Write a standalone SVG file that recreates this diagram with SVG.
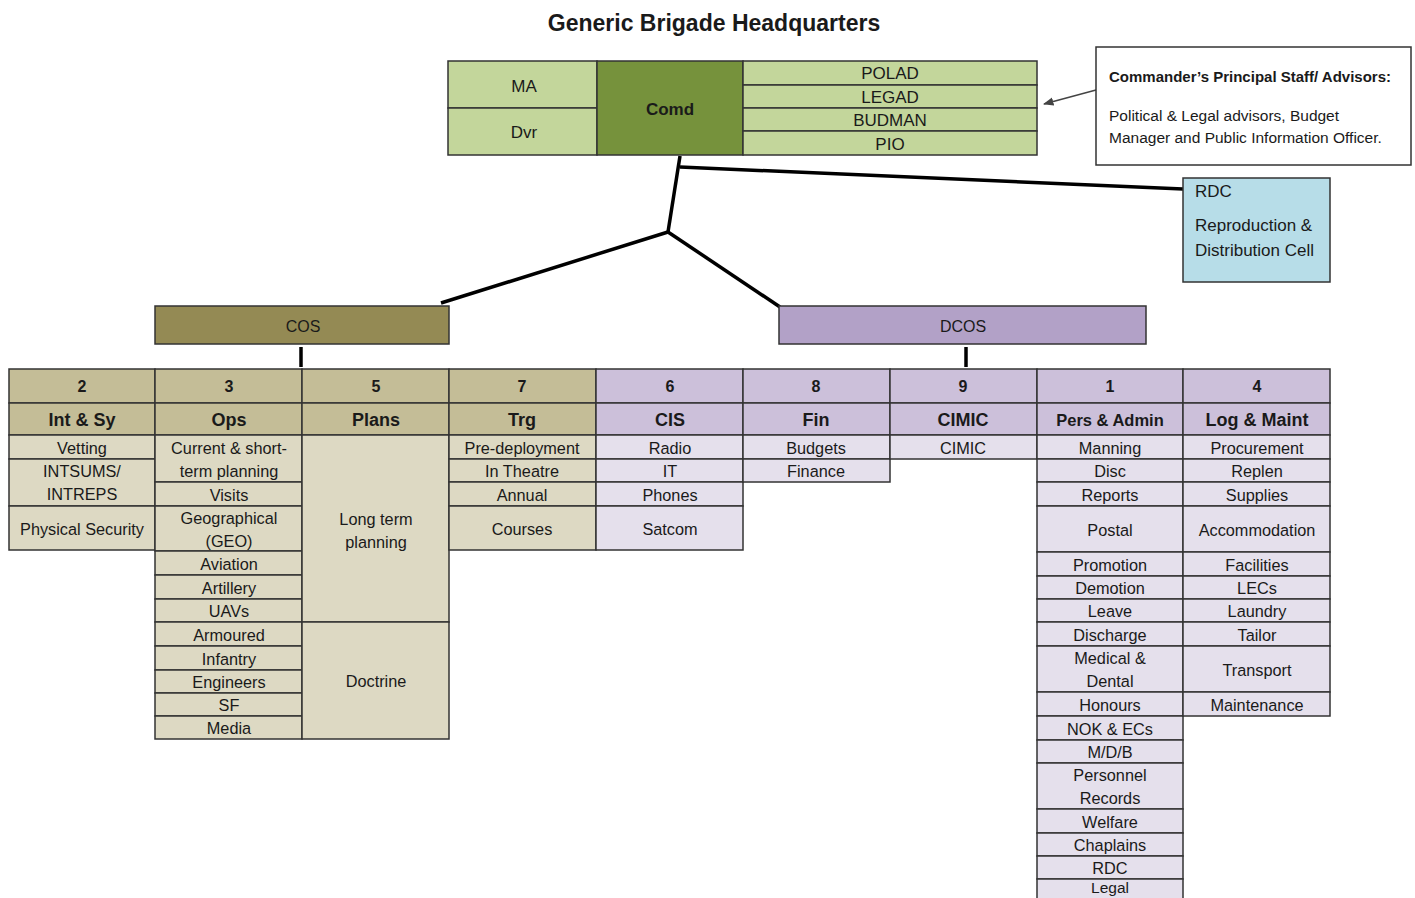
<svg xmlns="http://www.w3.org/2000/svg" width="1415" height="898" viewBox="0 0 1415 898">
<style>
text{font-family:"Liberation Sans",Arial,sans-serif;fill:#1a1a1a;text-anchor:middle}
.c{stroke:#333;stroke-width:1.5}
.lg{fill:#C3D69B}.dg{fill:#76923C}
.hl{fill:#C4BD97}.hr{fill:#CCC0DA}
.bl{fill:#DDD9C3}.br{fill:#E5E0EC}
.t{font-size:16.3px}
.h{font-size:18px;font-weight:bold}
.n{font-size:16px;font-weight:bold}
.conn{stroke:#000;stroke-width:3.5;fill:none;stroke-linecap:butt}
</style>
<defs>
<marker id="ah" viewBox="0 0 10 10" refX="9" refY="5" markerWidth="7" markerHeight="7" orient="auto-start-reverse"><path d="M0,1 L10,5 L0,9 z" fill="#444"/></marker>
</defs>
<rect width="1415" height="898" fill="#fff"/>
<text x="714" y="31" style="font-size:23px;font-weight:bold">Generic Brigade Headquarters</text>

<g id="connectors">
<polyline class="conn" points="680,156 668,232"/>
<polyline class="conn" points="680,167 1183,189"/>
<polyline class="conn" points="668,232 441,303"/>
<polyline class="conn" points="668,232 780,307"/>
<line class="conn" x1="301" y1="347" x2="301" y2="367"/>
<line class="conn" x1="966" y1="347" x2="966" y2="367"/>
<line x1="1096" y1="90" x2="1044" y2="104" stroke="#444" stroke-width="1.5" marker-end="url(#ah)"/>
</g>

<g id="comd">
<rect class="c lg" x="448" y="61" width="149" height="47"/><text x="524" y="92" style="font-size:17px">MA</text>
<rect class="c lg" x="448" y="108" width="149" height="47"/><text x="524" y="138" style="font-size:17px">Dvr</text>
<rect class="c dg" x="597" y="61" width="146" height="94"/><text x="670" y="115" style="font-size:17px;font-weight:bold">Comd</text>
<rect class="c lg" x="743" y="61" width="294" height="24"/><text x="890" y="79" style="font-size:17px">POLAD</text>
<rect class="c lg" x="743" y="85" width="294" height="23"/><text x="890" y="103" style="font-size:17px">LEGAD</text>
<rect class="c lg" x="743" y="108" width="294" height="23"/><text x="890" y="126" style="font-size:17px">BUDMAN</text>
<rect class="c lg" x="743" y="131" width="294" height="24"/><text x="890" y="150" style="font-size:17px">PIO</text>
</g>

<g id="advisors">
<rect x="1096" y="47" width="315" height="118" fill="#fff" stroke="#333" stroke-width="1.5"/>
<text x="1109" y="82" style="text-anchor:start;font-size:15px;font-weight:bold">Commander’s Principal Staff/ Advisors:</text>
<text x="1109" y="121" style="text-anchor:start;font-size:15.5px">Political &amp; Legal advisors, Budget</text>
<text x="1109" y="143" style="text-anchor:start;font-size:15.5px">Manager and Public Information Officer.</text>
</g>

<g id="rdc">
<rect x="1183" y="178" width="147" height="104" fill="#B7DDE8" stroke="#333" stroke-width="1.5"/>
<text x="1195" y="197" style="text-anchor:start;font-size:17px">RDC</text>
<text x="1195" y="231" style="text-anchor:start;font-size:17px">Reproduction &amp;</text>
<text x="1195" y="256" style="text-anchor:start;font-size:17px">Distribution Cell</text>
</g>

<g id="cos">
<rect x="155" y="306" width="294" height="38" fill="#948A54" stroke="#333" stroke-width="1.5"/>
<text x="303" y="332" style="font-size:16px">COS</text>
</g>
<g id="dcos">
<rect x="779" y="306" width="367" height="38" fill="#B2A1C7" stroke="#333" stroke-width="1.5"/>
<text x="963" y="332" style="font-size:16px">DCOS</text>
</g>

<g id="col2">
<rect class="c hl" x="9" y="369" width="146" height="34"/><text class="n" x="82" y="392">2</text>
<rect class="c hl" x="9" y="403" width="146" height="32"/><text class="h" x="82" y="426">Int &amp; Sy</text>
<rect class="c bl" x="9" y="435" width="146" height="24"/><text class="t" x="82" y="454">Vetting</text>
<rect class="c bl" x="9" y="459" width="146" height="47"/><text class="t" x="82" y="477">INTSUMS/</text><text class="t" x="82" y="500">INTREPS</text>
<rect class="c bl" x="9" y="506" width="146" height="44"/><text class="t" x="82" y="535">Physical Security</text>
</g>

<g id="col3">
<rect class="c hl" x="155" y="369" width="147" height="34"/><text class="n" x="229" y="392">3</text>
<rect class="c hl" x="155" y="403" width="147" height="32"/><text class="h" x="229" y="426">Ops</text>
<rect class="c bl" x="155" y="435" width="147" height="47"/><text class="t" x="229" y="454">Current &amp; short-</text><text class="t" x="229" y="477">term planning</text>
<rect class="c bl" x="155" y="482" width="147" height="24"/><text class="t" x="229" y="501">Visits</text>
<rect class="c bl" x="155" y="506" width="147" height="45"/><text class="t" x="229" y="524">Geographical</text><text class="t" x="229" y="547">(GEO)</text>
<rect class="c bl" x="155" y="551" width="147" height="24"/><text class="t" x="229" y="570">Aviation</text>
<rect class="c bl" x="155" y="575" width="147" height="24"/><text class="t" x="229" y="594">Artillery</text>
<rect class="c bl" x="155" y="599" width="147" height="23"/><text class="t" x="229" y="617">UAVs</text>
<rect class="c bl" x="155" y="622" width="147" height="24"/><text class="t" x="229" y="641">Armoured</text>
<rect class="c bl" x="155" y="646" width="147" height="24"/><text class="t" x="229" y="665">Infantry</text>
<rect class="c bl" x="155" y="670" width="147" height="23"/><text class="t" x="229" y="688">Engineers</text>
<rect class="c bl" x="155" y="693" width="147" height="23"/><text class="t" x="229" y="711">SF</text>
<rect class="c bl" x="155" y="716" width="147" height="23"/><text class="t" x="229" y="734">Media</text>
</g>

<g id="col5">
<rect class="c hl" x="302" y="369" width="147" height="34"/><text class="n" x="376" y="392">5</text>
<rect class="c hl" x="302" y="403" width="147" height="32"/><text class="h" x="376" y="426">Plans</text>
<rect class="c bl" x="302" y="435" width="147" height="187"/><text class="t" x="376" y="525">Long term</text><text class="t" x="376" y="548">planning</text>
<rect class="c bl" x="302" y="622" width="147" height="117"/><text class="t" x="376" y="687">Doctrine</text>
</g>

<g id="col7">
<rect class="c hl" x="449" y="369" width="147" height="34"/><text class="n" x="522" y="392">7</text>
<rect class="c hl" x="449" y="403" width="147" height="32"/><text class="h" x="522" y="426">Trg</text>
<rect class="c bl" x="449" y="435" width="147" height="24"/><text class="t" x="522" y="454">Pre-deployment</text>
<rect class="c bl" x="449" y="459" width="147" height="23"/><text class="t" x="522" y="477">In Theatre</text>
<rect class="c bl" x="449" y="482" width="147" height="24"/><text class="t" x="522" y="501">Annual</text>
<rect class="c bl" x="449" y="506" width="147" height="44"/><text class="t" x="522" y="535">Courses</text>
</g>

<g id="col6">
<rect class="c hr" x="596" y="369" width="147" height="34"/><text class="n" x="670" y="392">6</text>
<rect class="c hr" x="596" y="403" width="147" height="32"/><text class="h" x="670" y="426">CIS</text>
<rect class="c br" x="596" y="435" width="147" height="24"/><text class="t" x="670" y="454">Radio</text>
<rect class="c br" x="596" y="459" width="147" height="23"/><text class="t" x="670" y="477">IT</text>
<rect class="c br" x="596" y="482" width="147" height="24"/><text class="t" x="670" y="501">Phones</text>
<rect class="c br" x="596" y="506" width="147" height="44"/><text class="t" x="670" y="535">Satcom</text>
</g>

<g id="col8">
<rect class="c hr" x="743" y="369" width="147" height="34"/><text class="n" x="816" y="392">8</text>
<rect class="c hr" x="743" y="403" width="147" height="32"/><text class="h" x="816" y="426">Fin</text>
<rect class="c br" x="743" y="435" width="147" height="24"/><text class="t" x="816" y="454">Budgets</text>
<rect class="c br" x="743" y="459" width="147" height="23"/><text class="t" x="816" y="477">Finance</text>
</g>

<g id="col9">
<rect class="c hr" x="890" y="369" width="147" height="34"/><text class="n" x="963" y="392">9</text>
<rect class="c hr" x="890" y="403" width="147" height="32"/><text class="h" x="963" y="426">CIMIC</text>
<rect class="c br" x="890" y="435" width="147" height="24"/><text class="t" x="963" y="454">CIMIC</text>
</g>

<g id="col1">
<rect class="c hr" x="1037" y="369" width="146" height="34"/><text class="n" x="1110" y="392">1</text>
<rect class="c hr" x="1037" y="403" width="146" height="32"/><text class="h" x="1110" y="426" style="font-size:16.5px">Pers &amp; Admin</text>
<rect class="c br" x="1037" y="435" width="146" height="24"/><text class="t" x="1110" y="454">Manning</text>
<rect class="c br" x="1037" y="459" width="146" height="23"/><text class="t" x="1110" y="477">Disc</text>
<rect class="c br" x="1037" y="482" width="146" height="24"/><text class="t" x="1110" y="501">Reports</text>
<rect class="c br" x="1037" y="506" width="146" height="46"/><text class="t" x="1110" y="536">Postal</text>
<rect class="c br" x="1037" y="552" width="146" height="24"/><text class="t" x="1110" y="571">Promotion</text>
<rect class="c br" x="1037" y="576" width="146" height="23"/><text class="t" x="1110" y="594">Demotion</text>
<rect class="c br" x="1037" y="599" width="146" height="23"/><text class="t" x="1110" y="617">Leave</text>
<rect class="c br" x="1037" y="622" width="146" height="24"/><text class="t" x="1110" y="641">Discharge</text>
<rect class="c br" x="1037" y="646" width="146" height="46"/><text class="t" x="1110" y="664">Medical &amp;</text><text class="t" x="1110" y="687">Dental</text>
<rect class="c br" x="1037" y="692" width="146" height="24"/><text class="t" x="1110" y="711">Honours</text>
<rect class="c br" x="1037" y="716" width="146" height="24"/><text class="t" x="1110" y="735">NOK &amp; ECs</text>
<rect class="c br" x="1037" y="740" width="146" height="23"/><text class="t" x="1110" y="758">M/D/B</text>
<rect class="c br" x="1037" y="763" width="146" height="46"/><text class="t" x="1110" y="781">Personnel</text><text class="t" x="1110" y="804">Records</text>
<rect class="c br" x="1037" y="809" width="146" height="24"/><text class="t" x="1110" y="828">Welfare</text>
<rect class="c br" x="1037" y="833" width="146" height="23"/><text class="t" x="1110" y="851">Chaplains</text>
<rect class="c br" x="1037" y="856" width="146" height="23"/><text class="t" x="1110" y="874">RDC</text>
<rect class="c br" x="1037" y="879" width="146" height="24"/><text class="t" x="1110" y="893" style="font-size:15.5px">Legal</text>
</g>

<g id="col4">
<rect class="c hr" x="1183" y="369" width="147" height="34"/><text class="n" x="1257" y="392">4</text>
<rect class="c hr" x="1183" y="403" width="147" height="32"/><text class="h" x="1257" y="426">Log &amp; Maint</text>
<rect class="c br" x="1183" y="435" width="147" height="24"/><text class="t" x="1257" y="454">Procurement</text>
<rect class="c br" x="1183" y="459" width="147" height="23"/><text class="t" x="1257" y="477">Replen</text>
<rect class="c br" x="1183" y="482" width="147" height="24"/><text class="t" x="1257" y="501">Supplies</text>
<rect class="c br" x="1183" y="506" width="147" height="46"/><text class="t" x="1257" y="536">Accommodation</text>
<rect class="c br" x="1183" y="552" width="147" height="24"/><text class="t" x="1257" y="571">Facilities</text>
<rect class="c br" x="1183" y="576" width="147" height="23"/><text class="t" x="1257" y="594">LECs</text>
<rect class="c br" x="1183" y="599" width="147" height="23"/><text class="t" x="1257" y="617">Laundry</text>
<rect class="c br" x="1183" y="622" width="147" height="24"/><text class="t" x="1257" y="641">Tailor</text>
<rect class="c br" x="1183" y="646" width="147" height="46"/><text class="t" x="1257" y="676">Transport</text>
<rect class="c br" x="1183" y="692" width="147" height="24"/><text class="t" x="1257" y="711">Maintenance</text>
</g>
</svg>
